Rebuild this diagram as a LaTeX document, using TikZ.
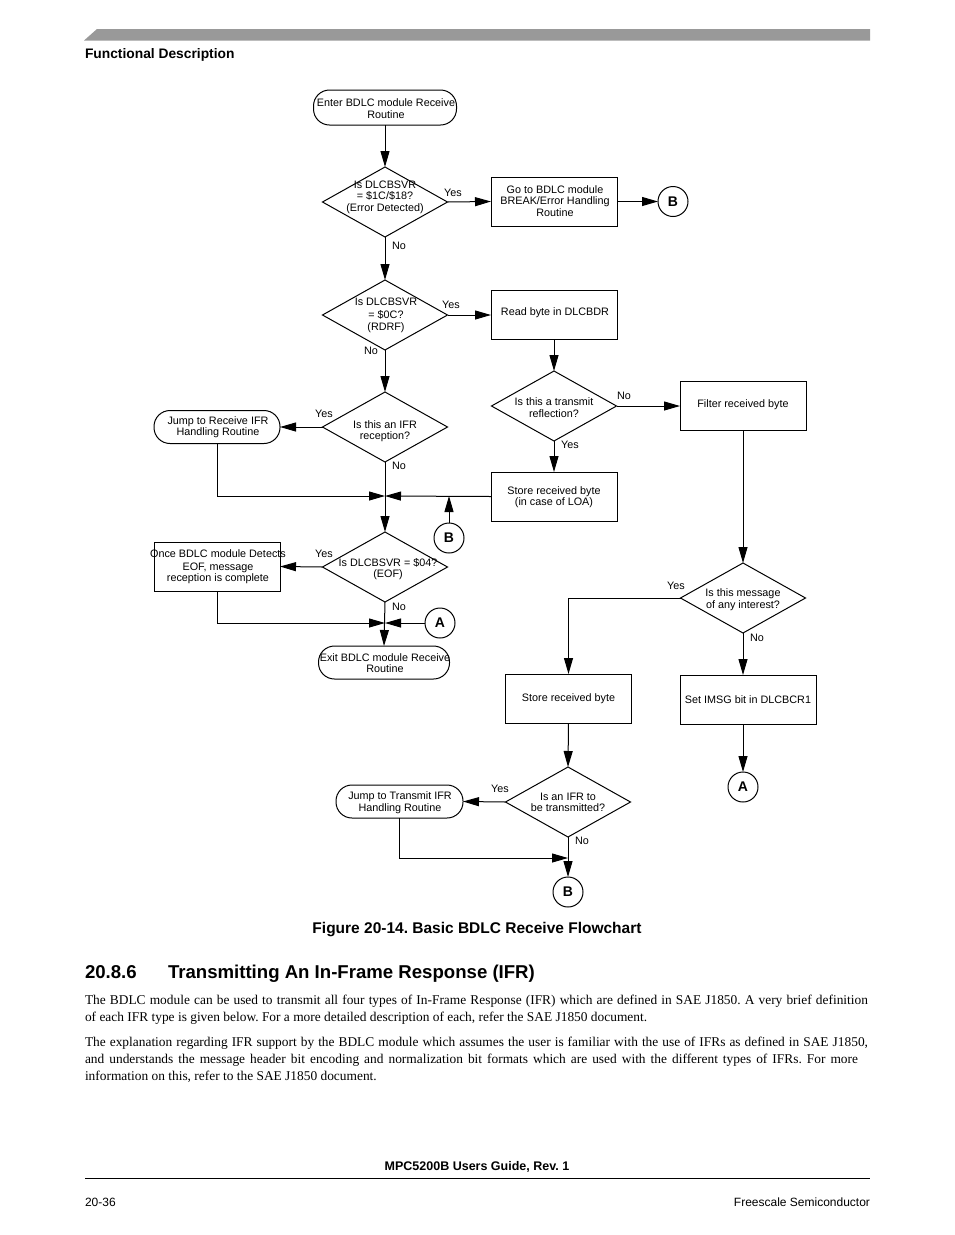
\documentclass[tikz,border=0pt]{standalone}
\usepackage{fontspec}
\setmainfont{Liberation Serif}
\setsansfont{Liberation Sans}
\usetikzlibrary{arrows.meta,shapes.geometric}
\frenchspacing
\begin{document}
\begin{tikzpicture}[x=1pt,y=-1pt,
  every node/.style={inner sep=0pt, outer sep=0pt},
  fc/.style={font=\sffamily\fontsize{10.8}{11.5}\selectfont, align=center},
  lbl/.style={font=\sffamily\fontsize{10.8}{11.5}\selectfont},
  box/.style={draw, line width=1pt, minimum width=126pt, minimum height=49pt},
  term/.style={draw, line width=1pt, rounded corners=16pt, minimum height=33pt},
  dia/.style={draw, line width=1pt, diamond, minimum width=125pt, minimum height=70pt},
  conn/.style={draw, circle, line width=1pt, minimum size=30pt, font=\sffamily\bfseries\fontsize{14}{14}\selectfont},
  arr/.style={line width=1pt, -{Triangle[length=16pt,width=9pt]}},
  body/.style={font=\rmfamily\fontsize{13.4}{17}\selectfont, anchor=base west},
]
\useasboundingbox (0,0) rectangle (954,1235);
% header bar
\fill[black!40] (84,40.5) -- (97,29) -- (870,29) -- (870,40.5) -- cycle;
\node[anchor=base west, font=\sffamily\bfseries\fontsize{13.8}{14}\selectfont] (hdr) at (85,58) {Functional Description};

% ---- main column
\node[term, minimum width=143pt, minimum height=35pt] (start) at (385,107.5) {};
\node[fc] at (386,108.5) {Enter BDLC module Receive\\Routine};

\node[dia] (d1) at (385,202) {};
\node[fc] at (385,197) {Is DLCBSVR\\= \$1C/\$18?\\(Error Detected)};

\node[box] (b1) at (554,201.5) {};
\node[fc] at (555,201) {Go to BDLC module\\BREAK/Error Handling\\Routine};
\node[conn] (cB1) at (673,201.5) {B};

\node[dia] (d2) at (385,315) {};
\node[fc] at (386,315.5) {Is DLCBSVR\\[1pt]= \$0C?\\[1pt](RDRF)};

\node[box] (b2) at (554,315) {};
\node[fc] at (555,313) {Read byte in DLCBDR};

\node[dia] (d3) at (554,406) {};
\node[fc] at (554,407.5) {Is this a transmit\\reflection?};

\node[box] (filt) at (743,406) {};
\node[fc] at (743,405) {Filter received byte};

\node[box] (loa) at (554,496.5) {};
\node[fc] at (554,497) {Store received byte\\(in case of LOA)};

\node[dia] (d4) at (385,427) {};
\node[fc] at (385,431) {Is this an IFR\\reception?};

\node[term, minimum width=126pt] (jr) at (217,427) {};
\node[fc] at (218,427) {Jump to Receive IFR\\Handling Routine};

\coordinate (m1) at (385,496);
\node[conn] (cB2) at (449,538) {B};

\node[dia] (d5) at (385,567) {};
\node[fc] at (388,569) {Is DLCBSVR = \$04?\\(EOF)};

\node[box] (once) at (217,566.5) {};
\node[fc] at (218,567) {Once BDLC module Detects\\[1pt]EOF, message\\reception is complete};

\coordinate (m2) at (385,623);
\node[conn] (cA1) at (440,623) {A};

\node[term, minimum width=131pt] (exit) at (384,662.5) {};
\node[fc] at (385,663) {Exit BDLC module Receive\\Routine};

% ---- right part
\node[dia] (d6) at (743,598) {};
\node[fc] at (743,599.5) {Is this message\\of any interest?};

\node[box] (store) at (568.5,698.5) {};
\node[fc] at (568.5,699) {Store received byte};

\node[box, minimum width=136pt] (imsg) at (748,699.5) {};
\node[fc] at (748,700) {Set IMSG bit in DLCBCR1};

\node[conn] (cA2) at (743,787) {A};

\node[dia] (d7) at (568,802) {};
\node[fc] at (568,802.5) {Is an IFR to\\be transmitted?};

\node[term, minimum width=127pt] (jt) at (399.5,801.5) {};
\node[fc] at (400,802.5) {Jump to Transmit IFR\\Handling Routine};

\coordinate (m3) at (568,858);
\node[conn] (cB3) at (568,892) {B};

% ---- labels
\node[lbl] at (453,193) {Yes};
\node[lbl] at (399,246) {No};
\node[lbl] at (451,305) {Yes};
\node[lbl] at (371,351) {No};
\node[lbl] at (624,396) {No};
\node[lbl] at (570,445) {Yes};
\node[lbl] at (324,414) {Yes};
\node[lbl] at (399,466) {No};
\node[lbl] at (324,554) {Yes};
\node[lbl] at (399,607) {No};
\node[lbl] at (676,586) {Yes};
\node[lbl] at (757,638) {No};
\node[lbl] at (500,789) {Yes};
\node[lbl] at (582,841) {No};

% ---- connectors
\draw[arr] (start.south) -- (d1.north);
\draw[arr] (d1.east) -- (b1.west);
\draw[arr] (b1.east) -- (cB1.west);
\draw[arr] (d1.south) -- (d2.north);
\draw[arr] (d2.east) -- (b2.west);
\draw[arr] (b2.south) -- (d3.north);
\draw[arr] (d3.east) -- (filt.west);
\draw[arr] (d3.south) -- (loa.north);
\draw[arr] (loa.west) -- (m1);
\draw[arr] (d2.south) -- (d4.north);
\draw[arr] (d4.west) -- (jr.east);
\draw[arr] (jr.south) |- (m1);
\draw[arr] (cB2.north) -- (cB2.north |- m1);
\draw[arr] (d4.south) -- (d5.north);
\draw[arr] (d5.west) -- (once.east);
\draw[arr] (once.south) |- (m2);
\draw[arr] (cA1.west) -- (m2);
\draw[arr] (d5.south) -- (exit.north);
\draw[arr] (filt.south) -- (d6.north);
\draw[arr] (d6.west) -| (store.north);
\draw[arr] (d6.south) -- (d6.south |- imsg.north);
\draw[arr] (imsg.south -| d6.south) -- (cA2.north);
\draw[arr] (store.south) -- (d7.north);
\draw[arr] (d7.west) -- (jt.east);
\draw[arr] (jt.south) |- (m3);
\draw[arr] (d7.south) -- (cB3.north);

% ---- caption and text
\node[font=\sffamily\bfseries\fontsize{15.5}{16}\selectfont] (cap) at (477,930) {Figure 20-14. Basic BDLC Receive Flowchart};
\node[anchor=base west, font=\sffamily\bfseries\fontsize{18.6}{19}\selectfont] (secno) at (85,978) {20.8.6};
\node[anchor=base west, font=\sffamily\bfseries\fontsize{18.6}{19}\selectfont] (sectitle) at (168,978) {Transmitting An In-Frame Response (IFR)};

\node[body] (p1a) at (85,1004) {\makebox[783pt][s]{The BDLC module can be used to transmit all four types of In-Frame Response (IFR) which are defined in SAE J1850. A very brief definition}};
\node[body] (p1b) at (85,1021) {of each IFR type is given below. For a more detailed description of each, refer the SAE J1850 document.};
\node[body] (p2a) at (85,1046) {\makebox[783pt][s]{The explanation regarding IFR support by the BDLC module which assumes the user is familiar with the use of IFRs as defined in SAE J1850,}};
\node[body] (p2b) at (85,1063) {\makebox[773pt][s]{and understands the message header bit encoding and normalization bit formats which are used with the different types of IFRs. For more}};
\node[body] (p2c) at (85,1080) {information on this, refer to the SAE J1850 document.};

% ---- footer
\node[font=\sffamily\bfseries\fontsize{12.5}{13}\selectfont] (ft) at (477,1167) {MPC5200B Users Guide, Rev. 1};
\draw[line width=1pt] (85,1178) -- (870,1178);
\node[anchor=base west, font=\sffamily\fontsize{12}{13}\selectfont] (pg) at (85,1206) {20-36};
\node[anchor=base east, font=\sffamily\fontsize{12}{13}\selectfont] (co) at (870,1206) {Freescale Semiconductor};
\end{tikzpicture}
\end{document}
